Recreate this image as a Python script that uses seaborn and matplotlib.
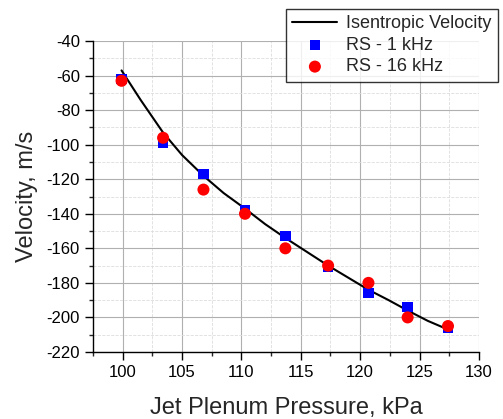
import matplotlib
matplotlib.use("Agg")
import matplotlib.pyplot as plt
import seaborn as sns
import pandas as pd
from matplotlib.ticker import MultipleLocator

sns.set_style("white")
plt.rcParams['font.family'] = ['Liberation Sans', 'DejaVu Sans']
plt.rcParams['axes.unicode_minus'] = False

# Measured pressures (kPa)
pressure = [99.9, 103.4, 106.8, 110.3, 113.7, 117.3, 120.7, 124.0, 127.4]
vel_1khz = [-62, -99, -117, -138, -153, -171, -186, -194, -206]
vel_16khz = [-63, -96, -126, -140, -160, -170, -180, -200, -205]

# Isentropic velocity curve
curve_p = [99.9, 101.5, 103.4, 105.0, 106.8, 108.5, 110.3, 112.0, 113.7,
           115.5, 117.3, 119.0, 120.7, 122.4, 124.0, 125.7, 127.4]
curve_v = [-57, -74, -93, -106, -118, -128, -137, -146, -154,
           -162, -170, -177, -184, -190, -196, -202, -207]

df_pts = pd.DataFrame({'p': pressure, 'v1': vel_1khz, 'v16': vel_16khz})
df_curve = pd.DataFrame({'p': curve_p, 'v': curve_v})

fig = plt.figure(figsize=(5.03, 4.19), dpi=100)
ax = fig.add_axes([0.185, 0.160, 0.767, 0.742])

ax.xaxis.set_major_locator(MultipleLocator(5))
ax.xaxis.set_minor_locator(MultipleLocator(2.5))
ax.yaxis.set_major_locator(MultipleLocator(20))
ax.yaxis.set_minor_locator(MultipleLocator(10))
ax.grid(which='major', color='#b0b0b0', linewidth=0.8)
ax.grid(which='minor', color='#dddddd', linewidth=0.6, linestyle='--')
ax.set_axisbelow(True)

sns.lineplot(data=df_curve, x='p', y='v', color='black', linewidth=1.5,
             ax=ax, label='Isentropic Velocity')
sns.scatterplot(data=df_pts, x='p', y='v1', color='#0000ff', marker='s',
                s=55, edgecolor='none', ax=ax, label='RS - 1 kHz', zorder=3)
sns.scatterplot(data=df_pts, x='p', y='v16', color='#ff0000', marker='o',
                s=75, edgecolor='none', ax=ax, label='RS - 16 kHz', zorder=4)

ax.set_xlim(97.5, 130)
ax.set_ylim(-220, -40)
ax.set_xlabel('Jet Plenum Pressure, kPa', fontsize=17, labelpad=12)
ax.set_ylabel('Velocity, m/s', fontsize=17, labelpad=6)

for s in ['top', 'right']:
    ax.spines[s].set_visible(False)
for s in ['left', 'bottom']:
    ax.spines[s].set_color('black')
    ax.spines[s].set_linewidth(1.0)

ax.tick_params(which='major', direction='out', length=6, width=1,
               labelsize=12, left=True, bottom=True, colors='black')
ax.tick_params(which='minor', direction='out', length=3, width=1,
               left=True, bottom=True)

leg = ax.legend(loc='upper left', bbox_to_anchor=(286 / 503, 1 - 9 / 419),
                bbox_transform=fig.transFigure, fontsize=13, frameon=True,
                fancybox=False, edgecolor='black', borderpad=0.35,
                labelspacing=0.25, handlelength=2.5, handletextpad=0.5,
                borderaxespad=0)
leg.get_frame().set_linewidth(1.0)

fig.savefig('out.png', dpi=100)
